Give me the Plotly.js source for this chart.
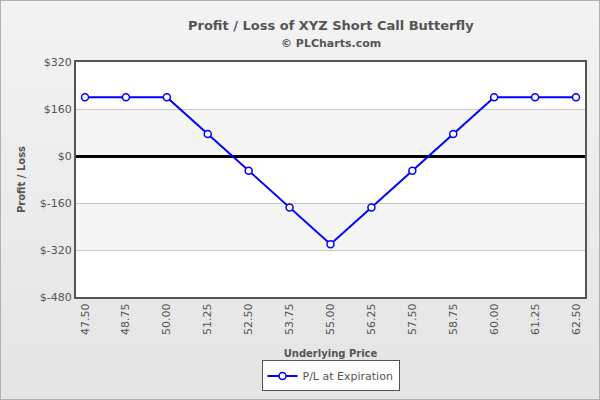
<!DOCTYPE html>
<html><head><meta charset="utf-8">
<script src="https://cdn.plot.ly/plotly-3.0.1.min.js"></script>
<style>
html,body{margin:0;padding:0;}
#wrap{width:600px;height:400px;box-sizing:border-box;border:1px solid #b0b0b0;background:linear-gradient(#f3f3f3,#e4e4e4);}
#chart{width:598px;height:398px;}
</style></head><body>
<div id="wrap"><div id="chart"></div></div>
<script>
const prices = [47.50, 48.75, 50.00, 51.25, 52.50, 53.75, 55.00, 56.25, 57.50, 58.75, 60.00, 61.25, 62.50];
const pl = [200, 200, 200, 75, -50, -175, -300, -175, -50, 75, 200, 200, 200];
const tickLabels = ["47.50","48.75","50.00","51.25","52.50","53.75","55.00","56.25","57.50","58.75","60.00","61.25","62.50"];
const yTicks = [320, 160, 0, -160, -320, -480];
const yTickLabels = ["$320","$160","$0","$-160","$-320","$-480"];
const bands = [[160, 0], [-160, -320]];
const titleText = 'Profit / Loss of XYZ Short Call Butterfly';
const subtitleText = '© PLCharts.com';

const font = 'Verdana, "DejaVu Sans", sans-serif';
const shapes = bands.map(b => ({type:'rect', xref:'paper', yref:'y', x0:0, x1:1, y0:b[0], y1:b[1], fillcolor:'#f5f5f5', line:{width:0}, layer:'below'}));

Plotly.newPlot('chart', [{
  x: prices, y: pl, type:'scatter', mode:'lines+markers', name:'P/L at Expiration',
  line:{color:'#0000ff', width:2},
  marker:{symbol:'circle', size:7, color:'#ffffff', line:{color:'#0000ff', width:1.5}}
}], {
  width:598, height:398,
  paper_bgcolor:'rgba(0,0,0,0)', plot_bgcolor:'#ffffff',
  margin:{l:75, r:14, t:61, b:102, autoexpand:false},
  annotations:[
    {text:'<b>'+titleText+'</b>', xref:'paper', yref:'paper', x:0.5, y:1.157, xanchor:'center', yanchor:'middle', showarrow:false, font:{family:font, size:13, color:'#555555'}},
    {text:'<b>'+subtitleText+'</b>', xref:'paper', yref:'paper', x:0.5, y:1.077, xanchor:'center', yanchor:'middle', showarrow:false, font:{family:font, size:11, color:'#555555'}}
  ],
  xaxis:{range:[47.225, 62.775], tickvals:prices, ticktext:tickLabels, tickangle:-90, showgrid:false, zeroline:false, automargin:false,
    showline:true, mirror:true, linecolor:'#555555', linewidth:2, ticks:'', tickfont:{family:font, size:11, color:'#555555'},
    title:{text:'<b>Underlying Price</b>', font:{family:font, size:10, color:'#555555'}, standoff:16}},
  yaxis:{range:[-480, 320], tickvals:yTicks, ticktext:yTickLabels, showgrid:true, gridcolor:'#c8c8c8', gridwidth:1,
    zeroline:true, zerolinecolor:'#000000', zerolinewidth:3, automargin:false,
    showline:true, mirror:true, linecolor:'#555555', linewidth:2, ticks:'', tickfont:{family:font, size:11, color:'#555555'},
    title:{text:'<b>Profit / Loss</b>', font:{family:font, size:10, color:'#555555'}, standoff:12}},
  shapes: shapes,
  showlegend:true,
  legend:{orientation:'h', x:0.5, xanchor:'center', y:-0.27, yanchor:'top', bgcolor:'#ffffff', bordercolor:'#555555', borderwidth:1,
    itemwidth:30, font:{family:font, size:11, color:'#555555'}}
}, {displayModeBar:false, staticPlot:true});
</script></body></html>
